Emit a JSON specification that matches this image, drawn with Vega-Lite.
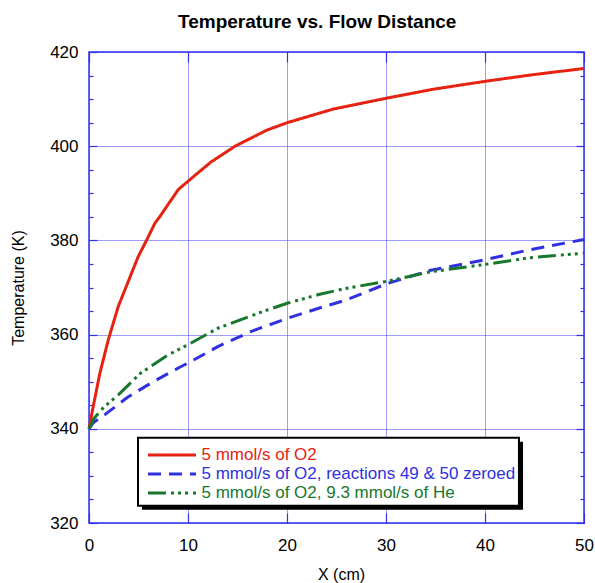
{
  "$schema": "https://vega.github.io/schema/vega-lite/v6.json",
  "width": 495,
  "height": 471,
  "autosize": {"type": "none"},
  "padding": {"left": 89, "top": 52, "right": 11, "bottom": 60},
  "background": "white",
  "title": {
    "text": "Temperature vs. Flow Distance",
    "font": "Liberation Sans",
    "fontSize": 19,
    "fontWeight": "bold",
    "color": "black",
    "anchor": "start",
    "frame": "group",
    "dx": 89,
    "baseline": "alphabetic",
    "offset": -4
  },
  "config": {
    "view": {"stroke": "#2f2ff0", "strokeWidth": 1.5},
    "axis": {
      "domain": false,
      "tickColor": "#2f2ff0",
      "tickWidth": 1.2,
      "gridColor": "#3c3cf5",
      "gridDash": [1, 1],
      "gridWidth": 1,
      "labelFont": "Liberation Sans",
      "labelFontSize": 17,
      "labelColor": "black",
      "labelFlush": false,
      "labelOverlap": false,
      "titleFont": "Liberation Sans",
      "titleFontSize": 16,
      "titleFontWeight": "normal",
      "titleColor": "black"
    }
  },
  "datasets": {
    "curves": [
      {"x": 0, "T": 340, "series": "5 mmol/s of O2"},
      {"x": 0.43, "T": 344.8, "series": "5 mmol/s of O2"},
      {"x": 1.1, "T": 351.8, "series": "5 mmol/s of O2"},
      {"x": 1.95, "T": 358.9, "series": "5 mmol/s of O2"},
      {"x": 2.96, "T": 366.0, "series": "5 mmol/s of O2"},
      {"x": 4.31, "T": 373.1, "series": "5 mmol/s of O2"},
      {"x": 4.98, "T": 376.6, "series": "5 mmol/s of O2"},
      {"x": 5.83, "T": 380.1, "series": "5 mmol/s of O2"},
      {"x": 6.67, "T": 383.7, "series": "5 mmol/s of O2"},
      {"x": 7.17, "T": 385.1, "series": "5 mmol/s of O2"},
      {"x": 7.85, "T": 387.2, "series": "5 mmol/s of O2"},
      {"x": 9.02, "T": 390.8, "series": "5 mmol/s of O2"},
      {"x": 10.03, "T": 392.6, "series": "5 mmol/s of O2"},
      {"x": 11.04, "T": 394.4, "series": "5 mmol/s of O2"},
      {"x": 12.3, "T": 396.6, "series": "5 mmol/s of O2"},
      {"x": 14.75, "T": 400.0, "series": "5 mmol/s of O2"},
      {"x": 17.95, "T": 403.4, "series": "5 mmol/s of O2"},
      {"x": 20.03, "T": 405.0, "series": "5 mmol/s of O2"},
      {"x": 24.7, "T": 407.9, "series": "5 mmol/s of O2"},
      {"x": 30.07, "T": 410.2, "series": "5 mmol/s of O2"},
      {"x": 34.8, "T": 412.1, "series": "5 mmol/s of O2"},
      {"x": 40.1, "T": 413.8, "series": "5 mmol/s of O2"},
      {"x": 44.9, "T": 415.2, "series": "5 mmol/s of O2"},
      {"x": 50, "T": 416.5, "series": "5 mmol/s of O2"},

      {"x": 0, "T": 340, "series": "5 mmol/s of O2, reactions 49 & 50 zeroed"},
      {"x": 0.43, "T": 341.3, "series": "5 mmol/s of O2, reactions 49 & 50 zeroed"},
      {"x": 1.6, "T": 343.0, "series": "5 mmol/s of O2, reactions 49 & 50 zeroed"},
      {"x": 3.9, "T": 346.7, "series": "5 mmol/s of O2, reactions 49 & 50 zeroed"},
      {"x": 6.33, "T": 349.8, "series": "5 mmol/s of O2, reactions 49 & 50 zeroed"},
      {"x": 9.02, "T": 352.9, "series": "5 mmol/s of O2, reactions 49 & 50 zeroed"},
      {"x": 10.03, "T": 354.0, "series": "5 mmol/s of O2, reactions 49 & 50 zeroed"},
      {"x": 13.06, "T": 357.5, "series": "5 mmol/s of O2, reactions 49 & 50 zeroed"},
      {"x": 16.4, "T": 360.7, "series": "5 mmol/s of O2, reactions 49 & 50 zeroed"},
      {"x": 20.1, "T": 363.5, "series": "5 mmol/s of O2, reactions 49 & 50 zeroed"},
      {"x": 23.2, "T": 365.6, "series": "5 mmol/s of O2, reactions 49 & 50 zeroed"},
      {"x": 25.9, "T": 367.3, "series": "5 mmol/s of O2, reactions 49 & 50 zeroed"},
      {"x": 30.07, "T": 370.8, "series": "5 mmol/s of O2, reactions 49 & 50 zeroed"},
      {"x": 34.4, "T": 373.6, "series": "5 mmol/s of O2, reactions 49 & 50 zeroed"},
      {"x": 40.0, "T": 375.9, "series": "5 mmol/s of O2, reactions 49 & 50 zeroed"},
      {"x": 44.5, "T": 378.0, "series": "5 mmol/s of O2, reactions 49 & 50 zeroed"},
      {"x": 50, "T": 380.2, "series": "5 mmol/s of O2, reactions 49 & 50 zeroed"},

      {"x": 0, "T": 340, "series": "5 mmol/s of O2, 9.3 mmol/s of He"},
      {"x": 0.5, "T": 342.2, "series": "5 mmol/s of O2, 9.3 mmol/s of He"},
      {"x": 1.5, "T": 344.6, "series": "5 mmol/s of O2, 9.3 mmol/s of He"},
      {"x": 2.96, "T": 347.2, "series": "5 mmol/s of O2, 9.3 mmol/s of He"},
      {"x": 5.2, "T": 351.8, "series": "5 mmol/s of O2, 9.3 mmol/s of He"},
      {"x": 8.0, "T": 355.7, "series": "5 mmol/s of O2, 9.3 mmol/s of He"},
      {"x": 10.03, "T": 357.9, "series": "5 mmol/s of O2, 9.3 mmol/s of He"},
      {"x": 13.06, "T": 361.4, "series": "5 mmol/s of O2, 9.3 mmol/s of He"},
      {"x": 16.4, "T": 364.0, "series": "5 mmol/s of O2, 9.3 mmol/s of He"},
      {"x": 18.1, "T": 365.3, "series": "5 mmol/s of O2, 9.3 mmol/s of He"},
      {"x": 20.1, "T": 366.7, "series": "5 mmol/s of O2, 9.3 mmol/s of He"},
      {"x": 23.2, "T": 368.5, "series": "5 mmol/s of O2, 9.3 mmol/s of He"},
      {"x": 25.9, "T": 369.8, "series": "5 mmol/s of O2, 9.3 mmol/s of He"},
      {"x": 30.07, "T": 371.3, "series": "5 mmol/s of O2, 9.3 mmol/s of He"},
      {"x": 34.4, "T": 373.3, "series": "5 mmol/s of O2, 9.3 mmol/s of He"},
      {"x": 40.0, "T": 374.9, "series": "5 mmol/s of O2, 9.3 mmol/s of He"},
      {"x": 44.5, "T": 376.3, "series": "5 mmol/s of O2, 9.3 mmol/s of He"},
      {"x": 50, "T": 377.3, "series": "5 mmol/s of O2, 9.3 mmol/s of He"}
    ]
  },
  "resolve": {"axis": {"x": "independent", "y": "independent"}},
  "layer": [
    {
      "description": "Drop shadow behind the legend box; also carries the inward top and right tick axes",
      "data": {"values": [{}]},
      "mark": {"type": "rect", "color": "black"},
      "encoding": {
        "x": {
          "datum": 5.35, "type": "quantitative",
          "scale": {"domain": [0, 50], "nice": false, "zero": false},
          "axis": {
            "orient": "top", "values": [0, 10, 20, 30, 40, 50],
            "tickSize": -10, "labels": false, "grid": false, "title": null
          }
        },
        "x2": {"datum": 43.84},
        "y": {
          "datum": 337.26, "type": "quantitative",
          "scale": {"domain": [320, 420], "nice": false, "zero": false},
          "axis": {
            "orient": "right",
            "values": [320, 325, 330, 335, 340, 345, 350, 355, 360, 365, 370, 375, 380, 385, 390, 395, 400, 405, 410, 415, 420],
            "tickSize": {"condition": {"test": "datum.value % 20 === 0", "value": -8}, "value": -4},
            "labels": false, "grid": false, "title": null
          }
        },
        "y2": {"datum": 322.8}
      }
    },
    {
      "description": "Legend box",
      "data": {"values": [{}]},
      "mark": {"type": "rect", "fill": "white", "stroke": "black", "strokeWidth": 2},
      "encoding": {
        "x": {"datum": 4.95, "type": "quantitative", "axis": null},
        "x2": {"datum": 43.43},
        "y": {"datum": 338.1, "type": "quantitative", "axis": null},
        "y2": {"datum": 323.67}
      }
    },
    {
      "data": {"name": "curves"},
      "mark": {"type": "line", "strokeWidth": 3, "strokeJoin": "round"},
      "encoding": {
        "x": {
          "field": "x", "type": "quantitative",
          "axis": {
            "orient": "bottom", "values": [0, 10, 20, 30, 40, 50],
            "tickSize": -10, "labelPadding": 24, "grid": true,
            "title": "X (cm)", "titleX": 252, "titleY": 56,
            "titleBaseline": "alphabetic", "titleAlign": "center"
          }
        },
        "y": {
          "field": "T", "type": "quantitative",
          "axis": {
            "orient": "left",
            "values": [320, 325, 330, 335, 340, 345, 350, 355, 360, 365, 370, 375, 380, 385, 390, 395, 400, 405, 410, 415, 420],
            "tickSize": {"condition": {"test": "datum.value % 20 === 0", "value": -8}, "value": -4},
            "labelPadding": 19,
            "labelExpr": "datum.value % 20 === 0 ? datum.label : ''",
            "grid": true,
            "gridOpacity": {"condition": {"test": "datum.value % 20 === 0", "value": 1}, "value": 0},
            "title": "Temperature (K)", "titleX": -66, "titleY": 235.5,
            "titleBaseline": "alphabetic", "titleAlign": "center", "titleAngle": 270
          }
        },
        "color": {
          "field": "series", "type": "nominal",
          "scale": {
            "domain": ["5 mmol/s of O2", "5 mmol/s of O2, reactions 49 & 50 zeroed", "5 mmol/s of O2, 9.3 mmol/s of He"],
            "range": ["#e62310", "#3030e2", "#17782c"]
          },
          "legend": {
            "orient": "none", "legendX": 57.5, "legendY": 395, "title": null,
            "padding": 0, "symbolType": "stroke", "symbolSize": 2304, "symbolStrokeWidth": 3,
            "clipHeight": 16, "rowPadding": 2, "labelOffset": 4,
            "labelFont": "Liberation Sans", "labelFontSize": 17, "labelLimit": 0,
            "encode": {"labels": {"update": {"fill": {"scale": "color", "field": "value"}}}}
          }
        },
        "strokeDash": {
          "field": "series", "type": "nominal",
          "scale": {
            "domain": ["5 mmol/s of O2", "5 mmol/s of O2, reactions 49 & 50 zeroed", "5 mmol/s of O2, 9.3 mmol/s of He"],
            "range": [[1, 0], [13, 8], [18, 5, 3, 4, 3, 4, 3, 5]]
          },
          "legend": {
            "orient": "none", "legendX": 57.5, "legendY": 395, "title": null,
            "padding": 0, "symbolType": "stroke", "symbolSize": 2304, "symbolStrokeWidth": 3,
            "clipHeight": 16, "rowPadding": 2, "labelOffset": 4,
            "labelFont": "Liberation Sans", "labelFontSize": 17, "labelLimit": 0,
            "encode": {"labels": {"update": {"fill": {"scale": "color", "field": "value"}}}}
          }
        }
      }
    }
  ]
}
